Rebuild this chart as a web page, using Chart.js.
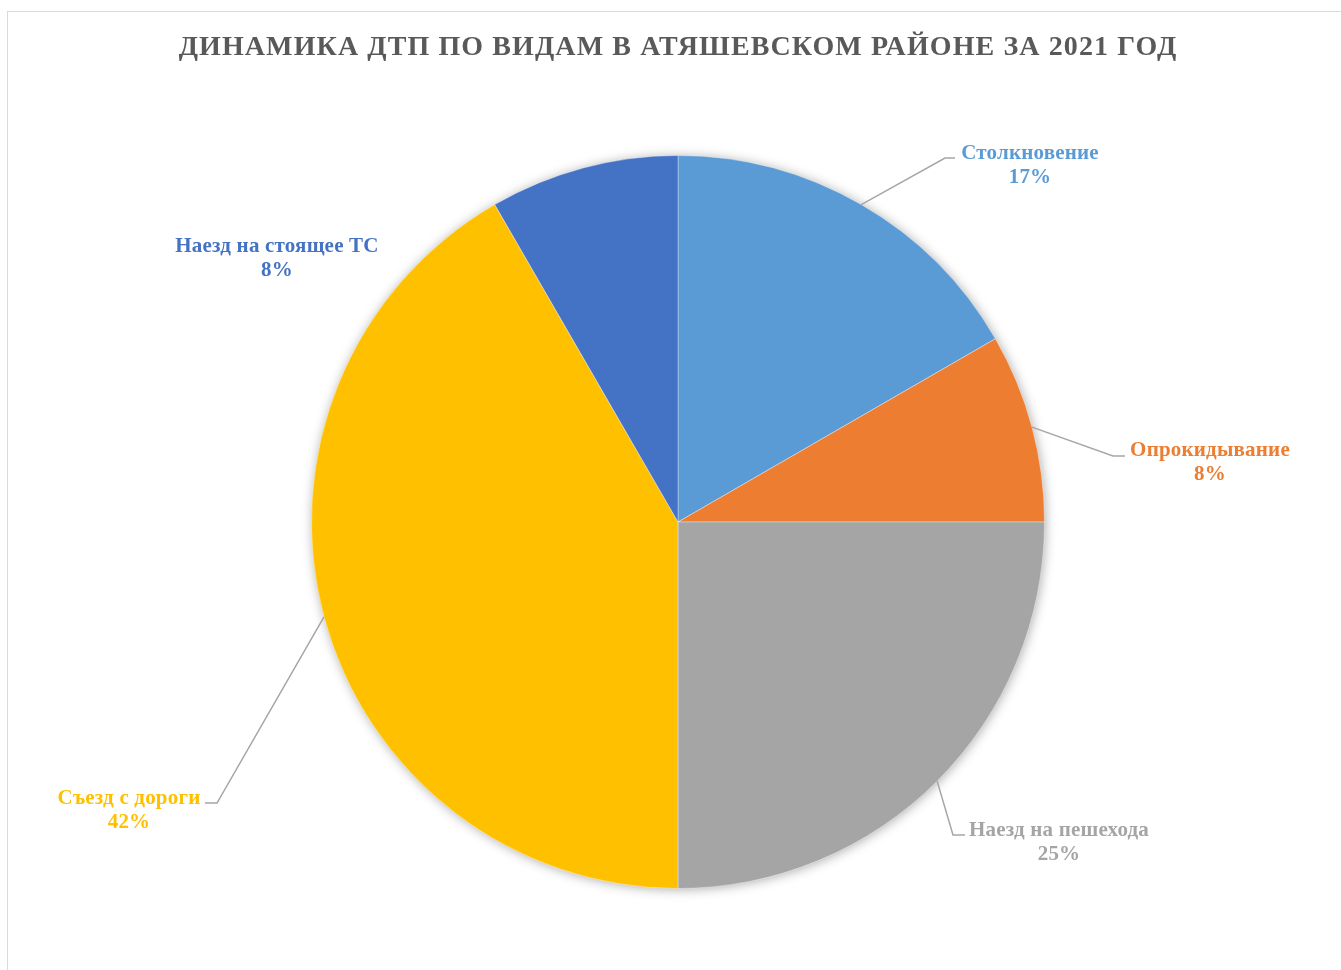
<!DOCTYPE html>
<html lang="ru">
<head>
<meta charset="utf-8">
<title>Динамика ДТП по видам</title>
<script src="https://cdn.jsdelivr.net/npm/chart.js@4/dist/chart.umd.min.js"></script>
<style>
  html, body { margin: 0; padding: 0; background: #fff; }
  #wrap { position: relative; width: 1341px; height: 970px; }
  #frame { position: absolute; left: 7px; top: 11px; width: 1340px; height: 965px;
           border: 1px solid #d9d9d9; box-sizing: border-box; pointer-events: none; }
  canvas { position: absolute; left: 0; top: 0; }
</style>
</head>
<body>
<div id="wrap">
  <canvas id="chart" width="1341" height="970"></canvas>
  <div id="frame"></div>
</div>
<script>
// Chart data
const titleText = 'ДИНАМИКА ДТП ПО ВИДАМ В АТЯШЕВСКОМ РАЙОНЕ ЗА 2021 ГОД';
const categories = ['Столкновение', 'Опрокидывание', 'Наезд на пешехода', 'Съезд с дороги', 'Наезд на стоящее ТС'];
const counts = [2, 1, 3, 5, 1];
const sliceColors = ['#5B9BD5', '#ED7D31', '#A5A5A5', '#FFC000', '#4472C4'];

// Label placement relative to pie centre (px): label centre, leader elbow, leader end
const labelLayout = [
  { cx: 352, cy: -358, elbow: [267, -364], end: [277, -364] },
  { cx: 532, cy: -61,  elbow: [435, -66],  end: [447, -66] },
  { cx: 381, cy: 319,  elbow: [275, 313],  end: [287, 313] },
  { cx: -549, cy: 287, elbow: [-461, 281], end: [-473, 281] },
  { cx: -401, cy: -265, elbow: null, end: null }
];

const labelFont = 'bold 21px "Liberation Serif", "Times New Roman", serif';
const titleFont = 'bold 28px "Liberation Serif", "Times New Roman", serif';

const total = counts.reduce((a, b) => a + b, 0);

const pieShadow = {
  id: 'pieShadow',
  beforeDatasetsDraw(chart) {
    const arc = chart.getDatasetMeta(0).data[0];
    if (!arc) return;
    const ctx = chart.ctx;
    ctx.save();
    ctx.shadowColor = 'rgba(0,0,0,0.35)';
    ctx.shadowBlur = 12;
    ctx.shadowOffsetX = 1;
    ctx.shadowOffsetY = 1;
    ctx.fillStyle = '#ffffff';
    ctx.beginPath();
    ctx.arc(arc.x, arc.y, arc.outerRadius - 0.5, 0, Math.PI * 2);
    ctx.fill();
    ctx.restore();
  }
};

const labelsAndTitle = {
  id: 'labelsAndTitle',
  afterDatasetsDraw(chart) {
    const ctx = chart.ctx;
    const meta = chart.getDatasetMeta(0);
    ctx.save();
    // title
    ctx.font = titleFont;
    ctx.letterSpacing = '1.1px';
    ctx.fillStyle = '#595959';
    ctx.textAlign = 'center';
    ctx.textBaseline = 'alphabetic';
    ctx.fillText(titleText, 678, 55);

    meta.data.forEach((arc, i) => {
      const cx = arc.x, cy = arc.y;
      const mid = (arc.startAngle + arc.endAngle) / 2;
      const lay = labelLayout[i];
      if (lay.elbow) {
        const sx = cx + Math.cos(mid) * arc.outerRadius;
        const sy = cy + Math.sin(mid) * arc.outerRadius;
        ctx.strokeStyle = '#a6a6a6';
        ctx.lineWidth = 1.5;
        ctx.beginPath();
        ctx.moveTo(sx, sy);
        ctx.lineTo(cx + lay.elbow[0], cy + lay.elbow[1]);
        ctx.lineTo(cx + lay.end[0], cy + lay.end[1]);
        ctx.stroke();
      }
      const pct = Math.round(counts[i] / total * 100) + '%';
      ctx.font = labelFont;
      ctx.letterSpacing = '0.2px';
      ctx.fillStyle = sliceColors[i];
      ctx.textAlign = 'center';
      ctx.textBaseline = 'alphabetic';
      const lx = cx + lay.cx, ly = cy + lay.cy;
      ctx.fillText(categories[i], lx, ly - 5);
      ctx.fillText(pct, lx, ly + 19);
    });
    ctx.restore();
  }
};

new Chart(document.getElementById('chart'), {
  type: 'pie',
  data: {
    labels: categories,
    datasets: [{
      data: counts,
      backgroundColor: sliceColors,
      borderColor: 'rgba(255,255,255,0.35)',
      borderWidth: 1
    }]
  },
  options: {
    responsive: false,
    animation: false,
    layout: { padding: { top: 155, bottom: 81, left: 311, right: 296 } },
    plugins: {
      legend: { display: false },
      title: { display: false },
      tooltip: { enabled: false }
    }
  },
  plugins: [pieShadow, labelsAndTitle]
});
</script>
</body>
</html>
